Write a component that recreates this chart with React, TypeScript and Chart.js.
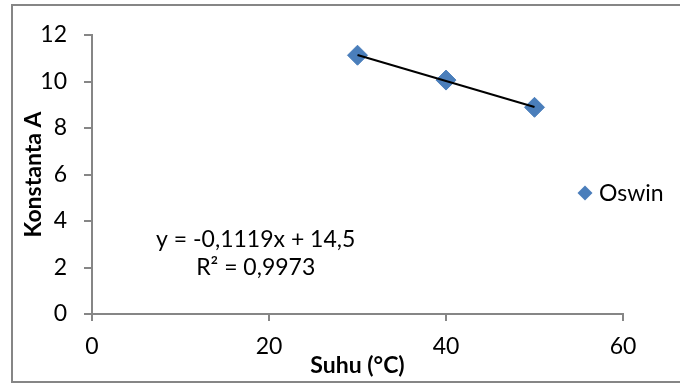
import React, { useEffect, useRef } from "react";
import { Chart, registerables } from "chart.js";

Chart.register(...registerables);

const seriesLabel = "Oswin";
const suhu = [30, 40, 50];
const konstantaA = [11.13, 10.06, 8.89];
const trendX = [30, 50];
const trendY = [11.14, 8.9];
const equationLines = ["y = -0,1119x + 14,5", "R² = 0,9973"];
const xTitle = "Suhu (°C)";
const yTitle = "Konstanta A";

const FONT = "Lato, Calibri, 'Liberation Sans', sans-serif";
const FS = 23;
const AXIS = "#868686";
const BLUE = "#4A7EBB";

export default function App() {
  const ref = useRef<HTMLCanvasElement | null>(null);

  useEffect(() => {
    if (!ref.current) return;
    const annot = {
      id: "annot",
      afterDraw(chart: any) {
        const ctx = chart.ctx;
        const xs = chart.scales.x;
        const ys = chart.scales.y;
        ctx.save();
        ctx.fillStyle = "#000";
        ctx.font = `${FS}px ${FONT}`;
        ctx.textAlign = "center";
        ctx.textBaseline = "middle";
        const ex = xs.getPixelForValue(18.5);
        ctx.fillText(equationLines[0], ex, ys.getPixelForValue(3.2));
        ctx.fillText(equationLines[1], ex, ys.getPixelForValue(2.0));
        const lx = 585;
        const ly = 193;
        const r = 7.5;
        ctx.fillStyle = BLUE;
        ctx.beginPath();
        ctx.moveTo(lx, ly - r);
        ctx.lineTo(lx + r, ly);
        ctx.lineTo(lx, ly + r);
        ctx.lineTo(lx - r, ly);
        ctx.closePath();
        ctx.fill();
        ctx.fillStyle = "#000";
        ctx.textAlign = "left";
        ctx.fillText(seriesLabel, 599, ly + 1);
        ctx.restore();
      },
    };

    const chart = new Chart(ref.current, {
      type: "scatter",
      data: {
        datasets: [
          {
            label: "trend",
            data: trendX.map((x, i) => ({ x, y: trendY[i] })),
            showLine: true,
            borderColor: "#000",
            borderWidth: 2,
            pointRadius: 0,
            order: 1,
          },
          {
            label: seriesLabel,
            data: suhu.map((x, i) => ({ x, y: konstantaA[i] })),
            pointStyle: "rectRot",
            pointRadius: 10,
            backgroundColor: BLUE,
            borderColor: BLUE,
            borderWidth: 1,
            order: 2,
          },
        ],
      },
      options: {
        animation: false,
        responsive: false,
        layout: { padding: { top: 35, right: 57, left: 0, bottom: 0 } },
        plugins: { legend: { display: false }, tooltip: { enabled: false } },
        scales: {
          x: {
            type: "linear",
            min: 0,
            max: 60,
            afterFit: (s: any) => {
              s.height = 69;
            },
            ticks: {
              stepSize: 20,
              padding: 12,
              color: "#000",
              font: { family: FONT, size: FS },
            },
            grid: {
              drawOnChartArea: false,
              drawTicks: true,
              tickLength: 7,
              color: AXIS,
              lineWidth: 2,
            },
            border: { color: AXIS, width: 2 },
            title: {
              display: true,
              text: xTitle,
              color: "#000",
              font: { family: FONT, size: FS, weight: "bold" },
              padding: { top: 0, bottom: 4 },
            },
          },
          y: {
            type: "linear",
            min: 0,
            max: 12,
            afterFit: (s: any) => {
              s.width = 92;
            },
            ticks: {
              stepSize: 2,
              padding: 17,
              color: "#000",
              font: { family: FONT, size: FS },
            },
            grid: {
              drawOnChartArea: false,
              drawTicks: true,
              tickLength: 8,
              color: AXIS,
              lineWidth: 2,
            },
            border: { color: AXIS, width: 2 },
            title: {
              display: true,
              text: yTitle,
              color: "#000",
              font: { family: FONT, size: FS, weight: "bold" },
              padding: { top: 20, bottom: 0 },
            },
          },
        },
      },
      plugins: [annot],
    } as any);
    return () => chart.destroy();
  }, []);

  return (
    <div
      style={{
        position: "fixed",
        left: 0,
        top: 0,
        width: 680,
        height: 383,
        background: "#fff",
        overflow: "hidden",
      }}
    >
      <div
        style={{
          position: "absolute",
          left: 11,
          top: 4,
          width: 700,
          height: 375,
          border: `2px solid ${AXIS}`,
        }}
      />
      <canvas
        ref={ref}
        width={680}
        height={383}
        style={{ position: "absolute", left: 0, top: 0, width: 680, height: 383 }}
      />
    </div>
  );
}
